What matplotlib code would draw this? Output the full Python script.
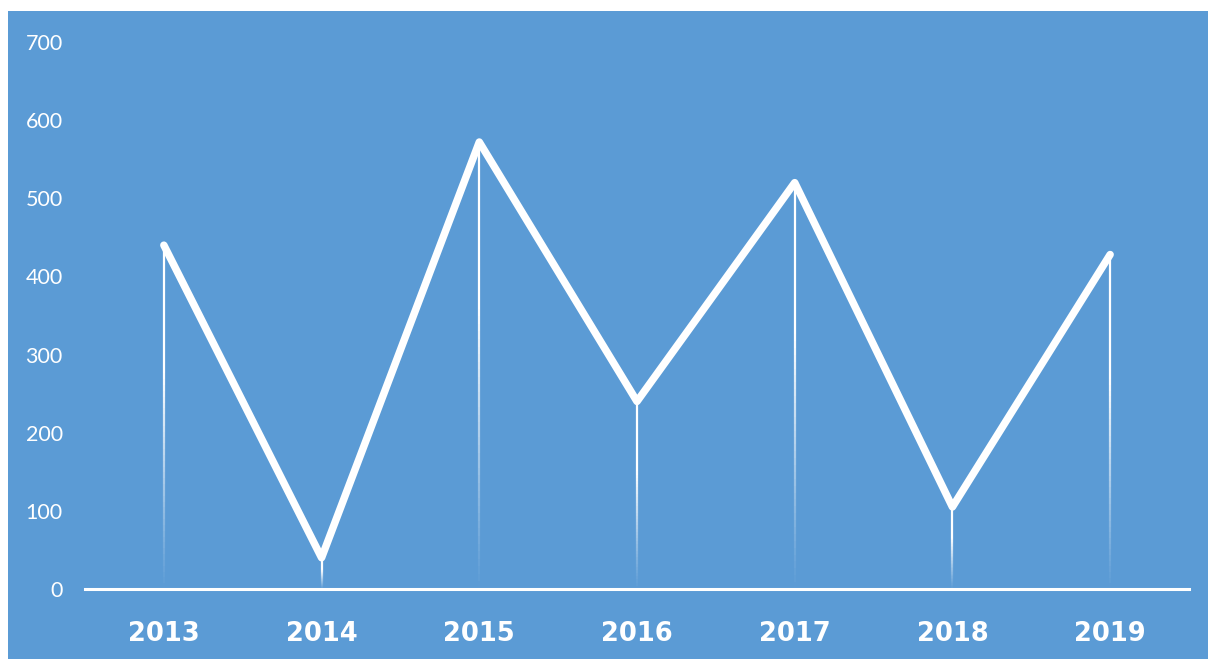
"""Yearly values as a white zigzag line on a blue panel, with fading drop lines."""

import matplotlib
matplotlib.use("Agg")
import matplotlib.pyplot as plt
import numpy as np
from matplotlib.collections import LineCollection
from matplotlib.patches import Rectangle

years = ["2013", "2014", "2015", "2016", "2017", "2018", "2019"]
values = [440, 40, 572, 240, 520, 105, 428]
y_ticks = [0, 100, 200, 300, 400, 500, 600, 700]

BLUE = "#5B9BD5"


def main() -> None:
    fig = plt.figure(figsize=(12.08, 6.59), dpi=100, facecolor="white")
    # blue panel behind everything
    fig.patches.append(Rectangle((8 / 1208, 0), 1 - 8 / 1208, 1 - 11 / 659,
                                 transform=fig.transFigure, facecolor=BLUE,
                                 edgecolor="none", zorder=-10))

    ax = fig.add_axes([85 / 1208, 1 - 589 / 659, (1189 - 85) / 1208, (589 - 42) / 659])
    ax.set_facecolor("none")
    x = np.arange(len(years))

    # drop lines fading toward the axis
    segs, cols = [], []
    for xi, v in zip(x, values):
        ys = np.linspace(0, v, 60)
        for y0, y1 in zip(ys[:-1], ys[1:]):
            frac = (y0 + y1) / 2 / v
            a = np.clip(frac * 1.6, 0, 1) ** 1.1
            segs.append([(xi, y0), (xi, y1)])
            cols.append((1, 1, 1, a))
    ax.add_collection(LineCollection(segs, colors=cols, linewidths=1.6, zorder=2))

    ax.plot(x, values, color="white", lw=5.4, solid_joinstyle="round",
            solid_capstyle="round", zorder=3)

    ax.set_xlim(-0.5, len(years) - 0.5)
    ax.set_ylim(0, 700)
    ax.set_yticks(y_ticks)
    ax.set_yticklabels([str(t) for t in y_ticks], color="white",
                       fontsize=15.5, family="Lato")
    ax.set_xticks(x)
    ax.set_xticklabels(years, color="white", fontsize=18.5,
                       fontweight="bold", family="DejaVu Sans")
    ax.tick_params(axis="y", length=0, pad=16)
    ax.tick_params(axis="x", length=0, pad=23)

    for side in ("left", "right", "top"):
        ax.spines[side].set_visible(False)
    ax.spines["bottom"].set_color("white")
    ax.spines["bottom"].set_linewidth(2.2)

    fig.savefig("out.png", dpi=100, facecolor=fig.get_facecolor())


if __name__ == "__main__":
    main()
